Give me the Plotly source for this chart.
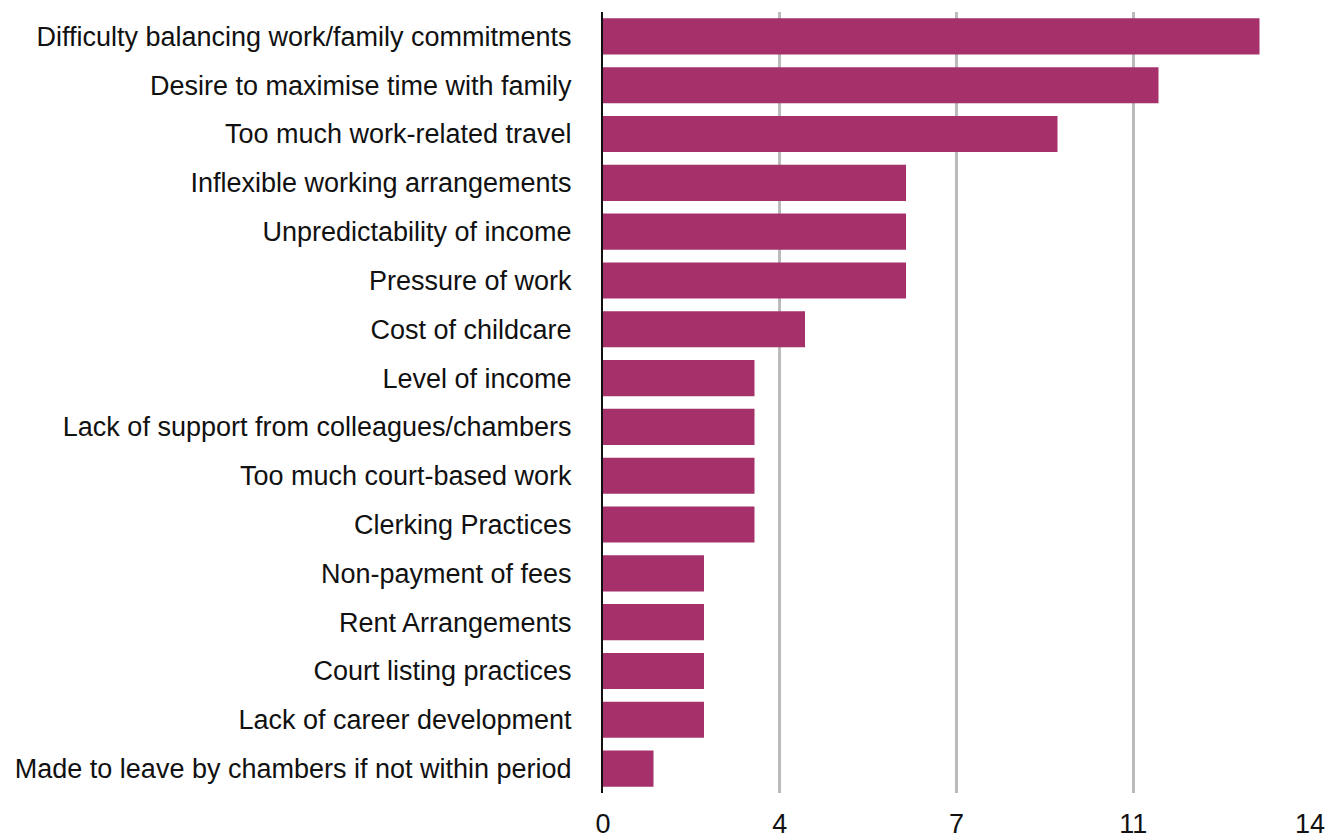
import plotly.graph_objects as go

categories = [
    "Difficulty balancing work/family commitments",
    "Desire to maximise time with family",
    "Too much work-related travel",
    "Inflexible working arrangements",
    "Unpredictability of income",
    "Pressure of work",
    "Cost of childcare",
    "Level of income",
    "Lack of support from colleagues/chambers",
    "Too much court-based work",
    "Clerking Practices",
    "Non-payment of fees",
    "Rent Arrangements",
    "Court listing practices",
    "Lack of career development",
    "Made to leave by chambers if not within period",
]
values = [13, 11, 9, 6, 6, 6, 4, 3, 3, 3, 3, 2, 2, 2, 2, 1]
tick_vals = [0, 3.5, 7, 10.5, 14]
tick_text = ["0", "4", "7", "11", "14"]

FONT = "Liberation Sans, Arial, Helvetica, sans-serif"
SIZE = 27

fig = go.Figure(
    go.Bar(
        x=values,
        y=categories,
        orientation="h",
        marker=dict(color="#A5306A", line=dict(width=0)),
        hoverinfo="x+y",
    )
)

# page body adds an 8px offset, so the figure is sized to fill the rest of the window
fig.update_layout(
    width=1336,
    height=832,
    margin=dict(l=595, r=34, t=4, b=47, autoexpand=False),
    paper_bgcolor="white",
    plot_bgcolor="white",
    bargap=0.26,
    showlegend=False,
    font=dict(family=FONT, size=SIZE, color="#111111"),
)
fig.update_xaxes(
    range=[0, 14],
    tickvals=tick_vals,
    ticktext=tick_text,
    showgrid=True,
    gridcolor="#BBBBBB",
    gridwidth=2.5,
    zeroline=False,
    showline=False,
    ticks="",
    automargin=False,
    ticklabelstandoff=12,
    tickfont=dict(family=FONT, size=SIZE, color="#111111"),
)
fig.update_yaxes(
    autorange="reversed",
    showgrid=False,
    zeroline=False,
    showline=True,
    linecolor="#111111",
    linewidth=2,
    ticks="",
    automargin=False,
    ticklabelstandoff=24,
    tickfont=dict(family=FONT, size=SIZE, color="#111111"),
)

fig.write_html("out.html")
